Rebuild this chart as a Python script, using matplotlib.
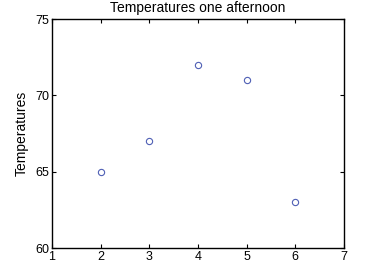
import matplotlib
matplotlib.use("Agg")
import matplotlib.pyplot as plt

# data
hours = [2, 3, 4, 5, 6]
temps = [65, 67, 72, 71, 63]
x_ticks = [1, 2, 3, 4, 5, 6, 7]
y_ticks = [60, 65, 70, 75]

plt.rcParams["font.family"] = ["Liberation Sans", "DejaVu Sans"]

fig = plt.figure(figsize=(3.69, 2.65), dpi=100)
ax = fig.add_axes([0.141, 0.064, 0.791, 0.864])

ax.plot(hours, temps, "o", ls="none", mfc="none", mec="#4f5fb5", ms=4.5, mew=0.8)

ax.set_xlim(1, 7)
ax.set_ylim(60, 75)
ax.set_xticks(x_ticks)
ax.set_yticks(y_ticks)
ax.tick_params(direction="in", top=True, right=True, length=3, width=0.8,
               labelsize=9, pad=2)
for sp in ax.spines.values():
    sp.set_linewidth(1.0)

ax.set_ylabel("Temperatures", fontsize=10, labelpad=5)
ax.set_title("Temperatures one afternoon", fontsize=10, pad=5)

fig.savefig("out.png", dpi=100)
